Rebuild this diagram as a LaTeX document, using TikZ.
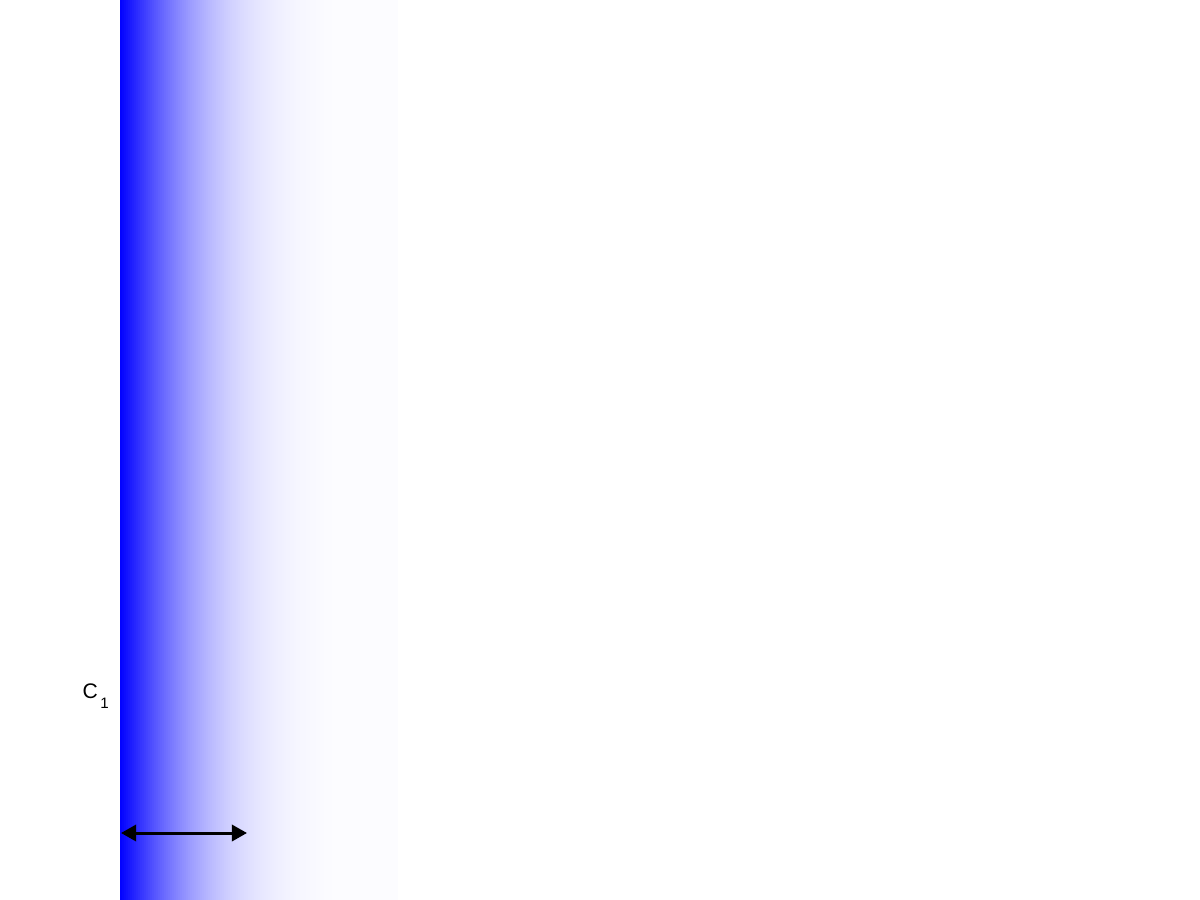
\documentclass[tikz,border=0pt]{standalone}
\usepackage{fontspec}
\setmainfont{Liberation Sans}
\usetikzlibrary{arrows.meta}
\begin{document}
\begin{tikzpicture}[x=0.01cm,y=-0.01cm,
  dimarrow/.style={line width=0.85pt,{Triangle[length=4.3pt,width=4.6pt]}-{Triangle[length=4.3pt,width=4.6pt]}},
  lbl/.style={font=\fontsize{6}{7}\selectfont,inner sep=0pt,anchor=base west}]
\useasboundingbox (0,0) rectangle (1200,900);
\fill[white] (0,0) rectangle (1200,900);
\foreach \i in {0,2,...,276} {
  \pgfmathsetmacro\p{max(1,min(100,100*exp(-((\i+1)/100)-0.484*((\i+1)/100)^2)))}
  \fill[blue!\p!white] (120+\i,0) rectangle (122.4+\i,900);
}
\node[lbl] (c1) at (82,698) {C\raisebox{-3.1pt}{\fontsize{4.3}{5}\selectfont\,1}};
\coordinate (aL) at (121,833);
\coordinate (aR) at (247,833);
\draw[dimarrow] (aL) -- (aR);
\end{tikzpicture}
\end{document}
